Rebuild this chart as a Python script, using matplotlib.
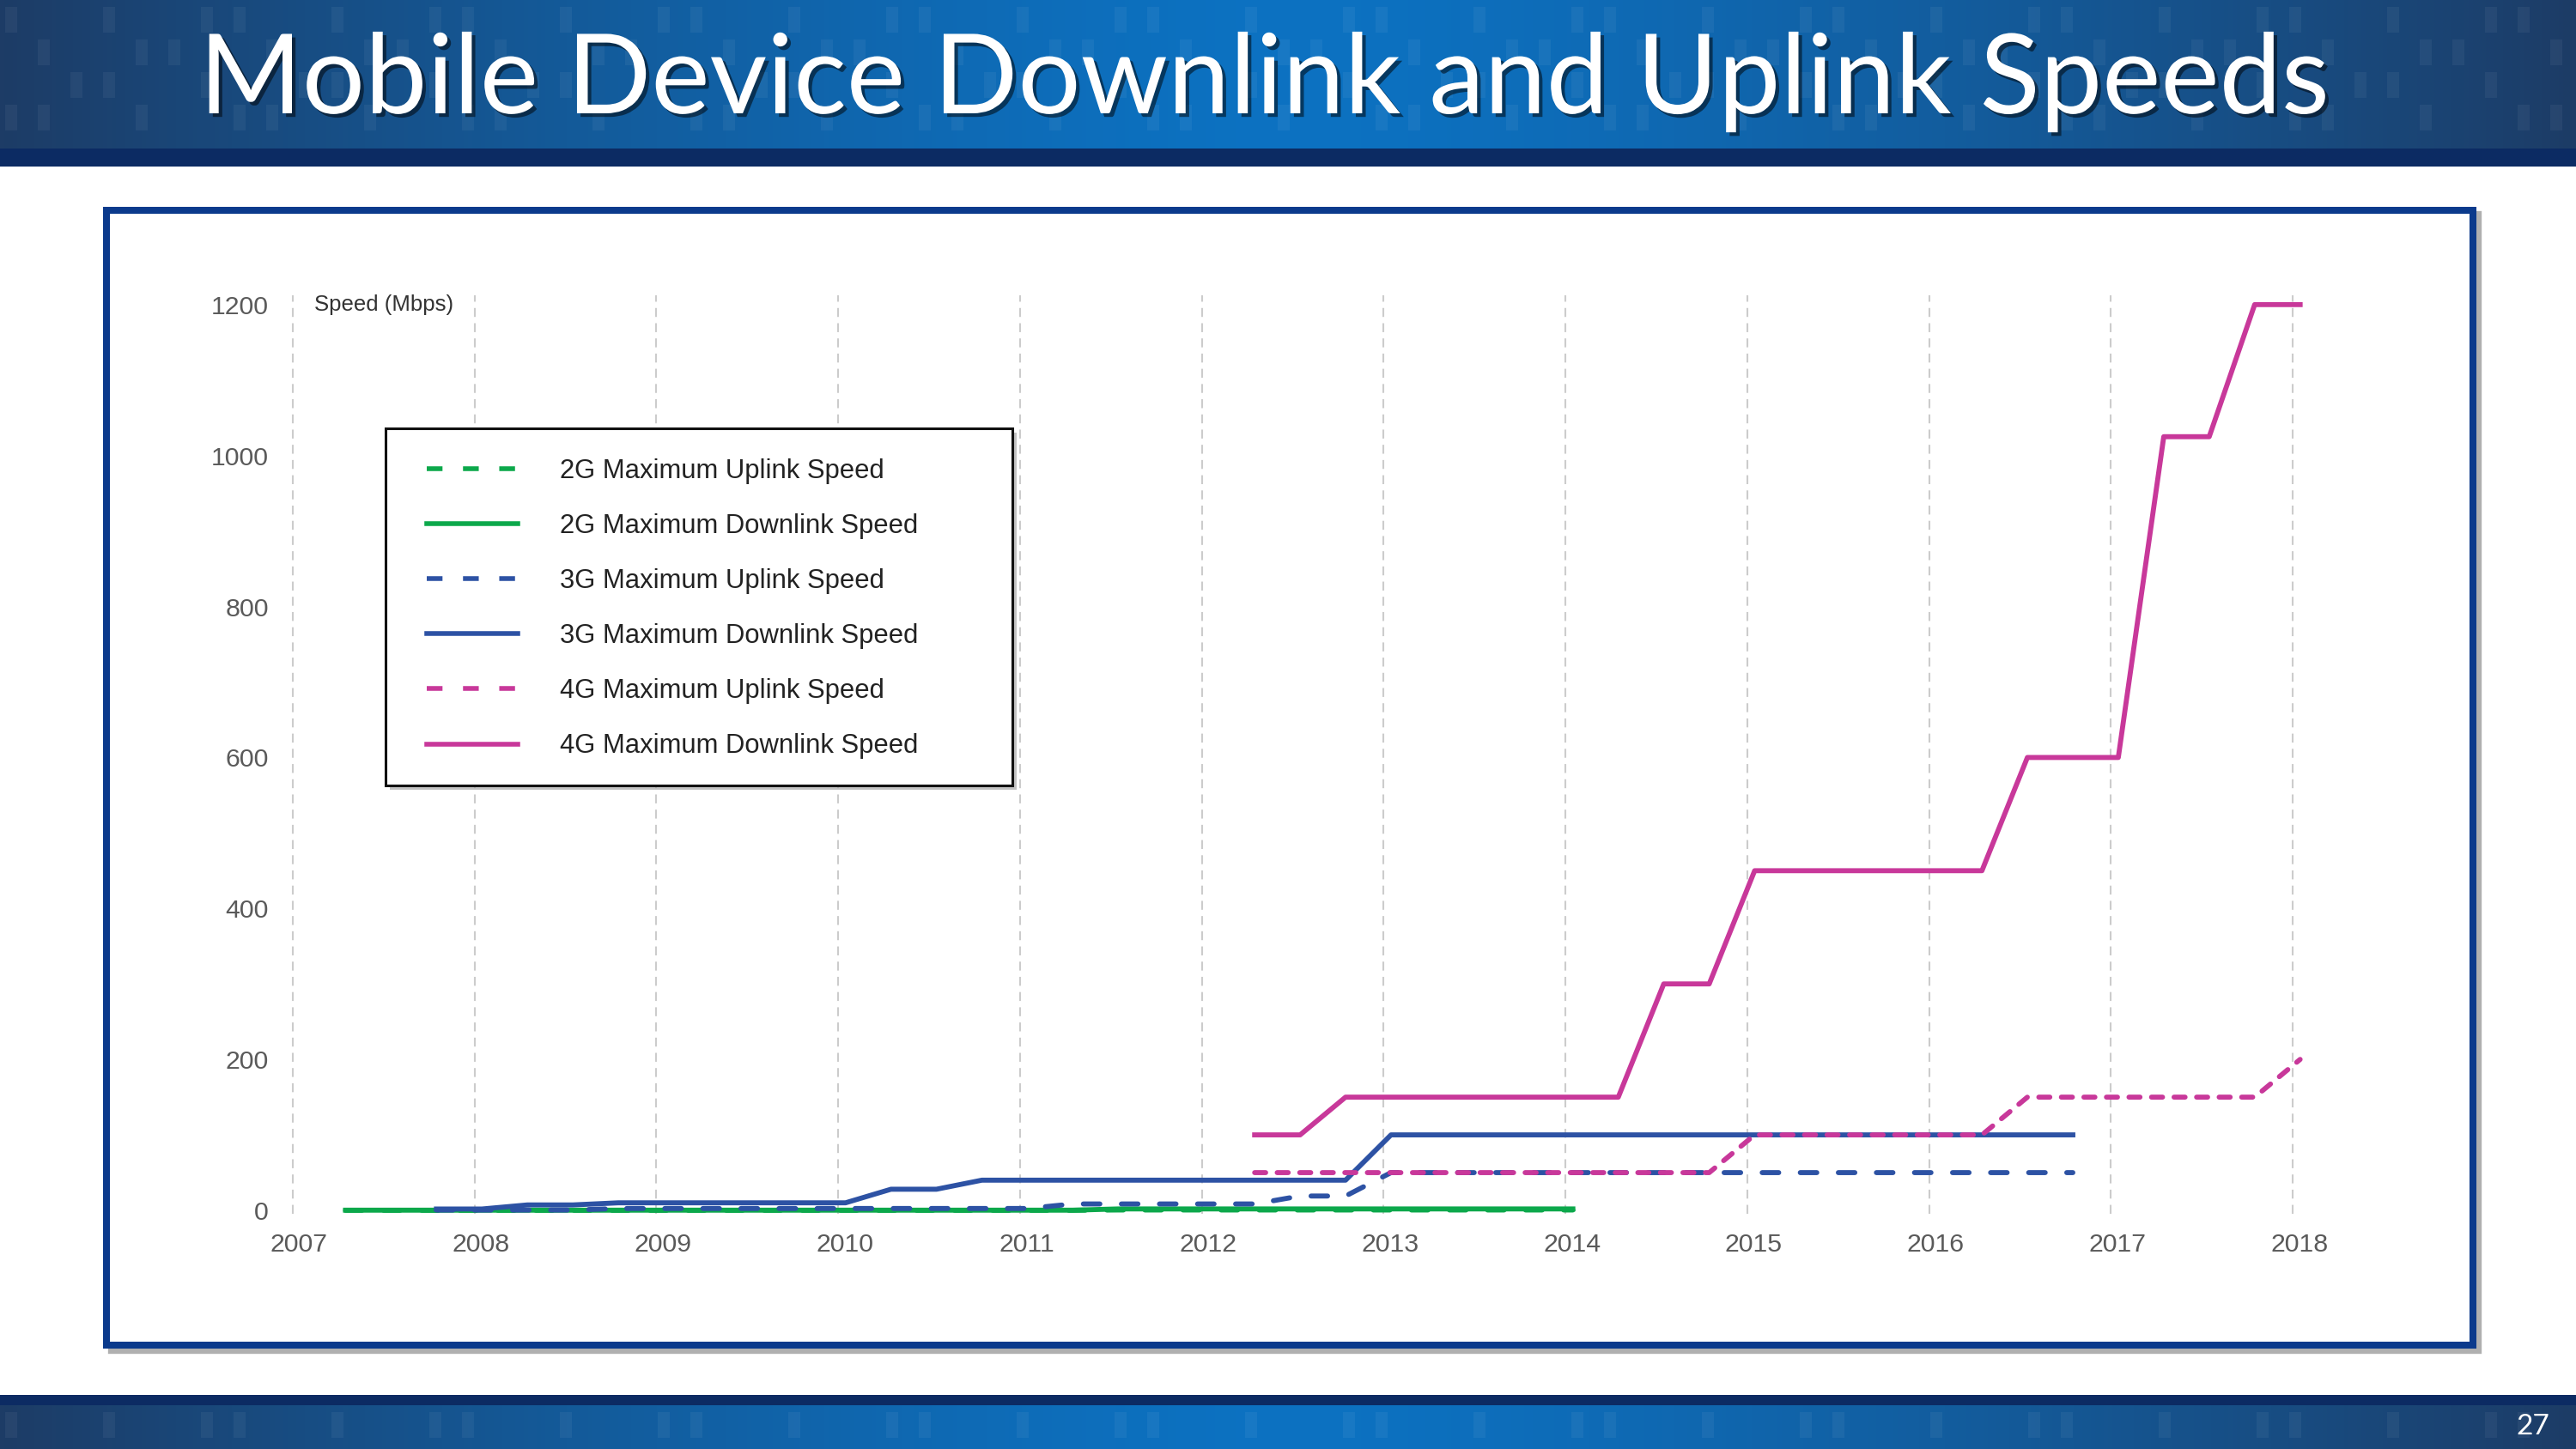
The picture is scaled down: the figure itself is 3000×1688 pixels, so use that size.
import matplotlib
matplotlib.use('Agg')
import matplotlib.pyplot as plt
import matplotlib.patheffects as pe
from matplotlib.patches import Rectangle
from matplotlib.lines import Line2D
import numpy as np

# ---- data (year fractions, Mbps) ----
yrs_2g = [2007.29, 2011.29, 2011.54, 2014.04]
up_2g = [0.1, 0.1, 0.5, 0.5]
down_2g = [0.24, 0.24, 1.9, 1.9]

yrs_3g_up = [2007.79, 2008.54, 2008.79, 2011.04, 2011.29, 2012.29, 2012.54, 2012.79, 2013.04, 2016.79]
up_3g = [0.4, 0.4, 2.5, 2.5, 8.5, 8.5, 19, 19, 50, 50]
yrs_3g_down = [2007.79, 2008.04, 2008.29, 2008.54, 2008.79, 2010.04, 2010.29, 2010.54, 2010.79, 2012.79, 2013.04, 2016.79]
down_3g = [1.8, 1.8, 7.2, 7.2, 10, 10, 28, 28, 40, 40, 100, 100]

yrs_4g_up = [2012.29, 2014.79, 2015.04, 2016.29, 2016.54, 2017.79, 2018.04]
up_4g = [50, 50, 100, 100, 150, 150, 200]
yrs_4g_down = [2012.29, 2012.54, 2012.79, 2014.29, 2014.54, 2014.79, 2015.04, 2016.29, 2016.54,
               2017.04, 2017.29, 2017.54, 2017.79, 2018.04]
down_4g = [100, 100, 150, 150, 300, 300, 450, 450, 600, 600, 1025, 1025, 1200, 1200]

year_ticks = list(range(2007, 2019))
speed_ticks = [0, 200, 400, 600, 800, 1000, 1200]
labels = ['2G Maximum Uplink Speed', '2G Maximum Downlink Speed',
          '3G Maximum Uplink Speed', '3G Maximum Downlink Speed',
          '4G Maximum Uplink Speed', '4G Maximum Downlink Speed']

GREEN, BLUE, PINK = '#0ca84b', '#2d52a4', '#c8389a'
W, H = 3000, 1688

fig = plt.figure(figsize=(W / 100, H / 100), dpi=100)
fig.patch.set_facecolor('white')

# ---- background (pixel coords) ----
bg = fig.add_axes([0, 0, 1, 1])
bg.set_xlim(0, W); bg.set_ylim(H, 0); bg.axis('off')

def band(y0, y1):
    t = np.abs(np.linspace(-1, 1, 600))
    edge = np.array([0x1d, 0x3c, 0x66]) / 255
    mid = np.array([0x0c, 0x72, 0xc2]) / 255
    cols = mid[None, :] * (1 - t[:, None] ** 1.4) + edge[None, :] * (t[:, None] ** 1.4)
    bg.imshow(cols[None, :, :], extent=[0, W, y1, y0], aspect='auto', zorder=0)
    # faint texture of light bars
    rows = np.arange(y0 + 8, y1 - 20, 38)
    for r, yy in enumerate(rows):
        for i in range(80):
            if (i * 5 + r * 3) % 7 < 3:
                bg.add_patch(Rectangle((i * 38 + 6, yy), 14, 30, color='white',
                                       alpha=0.05, lw=0, zorder=1))

band(0, 173)
bg.add_patch(Rectangle((0, 173), W, 21, color='#0c2b63', lw=0, zorder=2))
band(1637, H)
bg.add_patch(Rectangle((0, 1625), W, 12, color='#0c2b63', lw=0, zorder=2))

bg.text(1472, 132, 'Mobile Device Downlink and Uplink Speeds', ha='center', va='baseline',
        color='white', fontsize=93, family='Lato', zorder=5,
        path_effects=[pe.withSimplePatchShadow(offset=(3, -3), shadow_rgbFace='black', alpha=0.5)])
bg.text(2950, 1671, '27', ha='center', va='baseline', color='white', fontsize=24,
        family='Lato', zorder=5)

# chart frame with shadow
bg.add_patch(Rectangle((130, 250), 2756, 1323, facecolor='none', edgecolor='#b0b0b0',
                       lw=6, zorder=2))
bg.add_patch(Rectangle((124, 244.5), 2756, 1322.5, facecolor='white', edgecolor='#0b3a8c',
                       lw=5.8, zorder=3))

# ---- chart axes ----
x0, x1 = 2006.9, 2018.2
y0, y1 = -15, 1215
px_year = 211.75
px_mbps = 0.8793
left = 341 + (x0 - 2007) * px_year
right = 341 + (x1 - 2007) * px_year
bottom = 1410 - y0 * px_mbps
top = 1410 - y1 * px_mbps
ax = fig.add_axes([left / W, 1 - bottom / H, (right - left) / W, (bottom - top) / H])
ax.patch.set_alpha(0)
ax.set_xlim(x0, x1); ax.set_ylim(y0, y1)
for s in ax.spines.values():
    s.set_visible(False)

ax.vlines(year_ticks, -5, 1212, colors='#cccccc', lw=1.5, linestyles=(0, (5, 3.5)), zorder=1)

LONG = (0, (3.3, 4.3))
SHORT = (0, (2.2, 2.3))
lw = 4.2
ax.plot(yrs_2g, up_2g, color=GREEN, lw=lw, ls=LONG, dash_capstyle='round', zorder=2)
ax.plot(yrs_2g, down_2g, color=GREEN, lw=lw, zorder=2)
ax.plot(yrs_3g_up, up_3g, color=BLUE, lw=lw, ls=LONG, dash_capstyle='round', zorder=3)
ax.plot(yrs_3g_down, down_3g, color=BLUE, lw=lw, zorder=3)
ax.plot(yrs_4g_up, up_4g, color=PINK, lw=lw, ls=SHORT, dash_capstyle='round', zorder=4)
ax.plot(yrs_4g_down, down_4g, color=PINK, lw=lw, zorder=4)

ax.set_xticks([y + 0.035 for y in year_ticks])
ax.set_xticklabels([str(y) for y in year_ticks])
ax.set_yticks(speed_ticks)
ax.set_yticklabels([str(v) for v in speed_ticks])
ax.tick_params(length=0, labelsize=21.8, labelcolor='#5a5a5a')
ax.tick_params(axis='y', pad=5)
ax.tick_params(axis='x', pad=9)
for t in ax.get_xticklabels() + ax.get_yticklabels():
    t.set_family('Liberation Sans')

ax.text(2007.12, 1200, 'Speed (Mbps)', ha='left', va='center', fontsize=18.5,
        color='#333333', family='Liberation Sans')

# ---- legend ----
ax.add_patch(Rectangle((454, 504), 730, 416, transform=bg.transData, facecolor='#9a9a9a',
                       edgecolor='none', alpha=0.6, zorder=6, clip_on=False))
ax.add_patch(Rectangle((449, 498.7), 730, 416, transform=bg.transData, facecolor='white',
                       edgecolor='#111111', lw=2.2, zorder=7, clip_on=False))
cols = [GREEN, GREEN, BLUE, BLUE, PINK, PINK]
handles = [Line2D([], [], color=c, lw=4.0, ls=(LONG if i % 2 == 0 else '-'))
           for i, c in enumerate(cols)]
leg = ax.legend(handles, labels, loc='upper left',
                bbox_to_anchor=(496.6 / W, 1 - 534 / H), bbox_transform=fig.transFigure,
                frameon=False, borderpad=0, borderaxespad=0, handlelength=3.42,
                handletextpad=1.6, labelspacing=1.1,
                prop={'family': 'Liberation Sans', 'size': 22.3})
for t in leg.get_texts():
    t.set_color('#222222')
leg.set_zorder(8)

fig.savefig('out.png', dpi=100)
